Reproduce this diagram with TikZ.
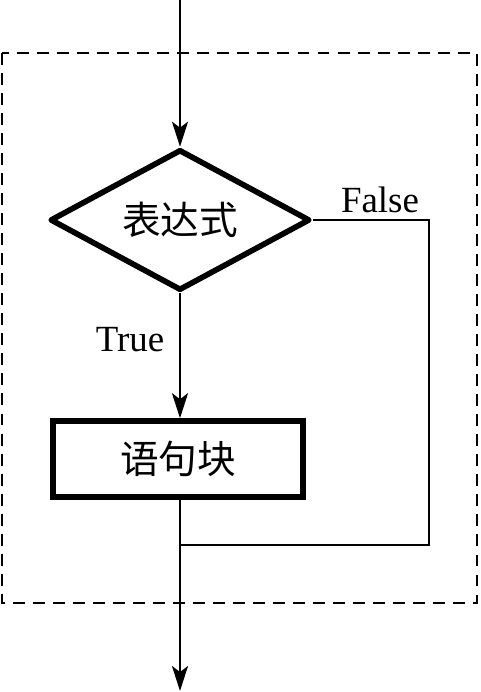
\documentclass[tikz,border=0pt]{standalone}
\usepackage{fontspec}
\setmainfont{Liberation Serif}
\newfontfamily\cjk{Noto Sans CJK SC}
\usetikzlibrary{shapes.geometric}
\usetikzlibrary{arrows.meta}
\tikzset{
    decision/.style={diamond, draw, aspect=1.9, line width=3.2pt, line join=round, minimum width=5.2cm, minimum height=2.82cm, inner sep=0pt, font=\cjk\fontsize{22}{26}\selectfont},
    block/.style={rectangle, draw, line width=3.2pt, minimum width=5.0cm, minimum height=1.52cm, inner sep=0pt, font=\cjk\fontsize{22}{26}\selectfont},
    flow/.style={line width=1.3pt},
    pfeil/.style={flow, -{Stealth[length=0.5cm, width=0.32cm, inset=0.12cm]}},
    caption/.style={font=\fontsize{21}{25}\selectfont}
}

\begin{document}
\begin{tikzpicture}[x=0.02cm, y=-0.02cm]

    \useasboundingbox (0,0) rectangle (480,692);

    % loop frame
    \draw[line width=1.4pt, dash pattern=on 6.8pt off 4.6pt] (2,53) rectangle (477,603);

    \node[decision] (expr) at (180,220) {表达式};
    \node[block] (body) at (178,459) {语句块};

    \coordinate (in) at (180,0);
    \coordinate (corner) at (429,545);
    \coordinate (join) at (180,545);
    \coordinate (out) at (180,691);

    \draw[pfeil] (in) -- (expr.north);
    \draw[pfeil] (expr.south) -- (expr.south |- body.north);
    \draw[flow] (expr.east) -| (corner) -- (join);
    \draw[pfeil] (expr.south |- body.south) -- (out);

    \node[caption] (false) at (380,200) {False};
    \node[caption] (true) at (130,340) {True};

\end{tikzpicture}
\end{document}
